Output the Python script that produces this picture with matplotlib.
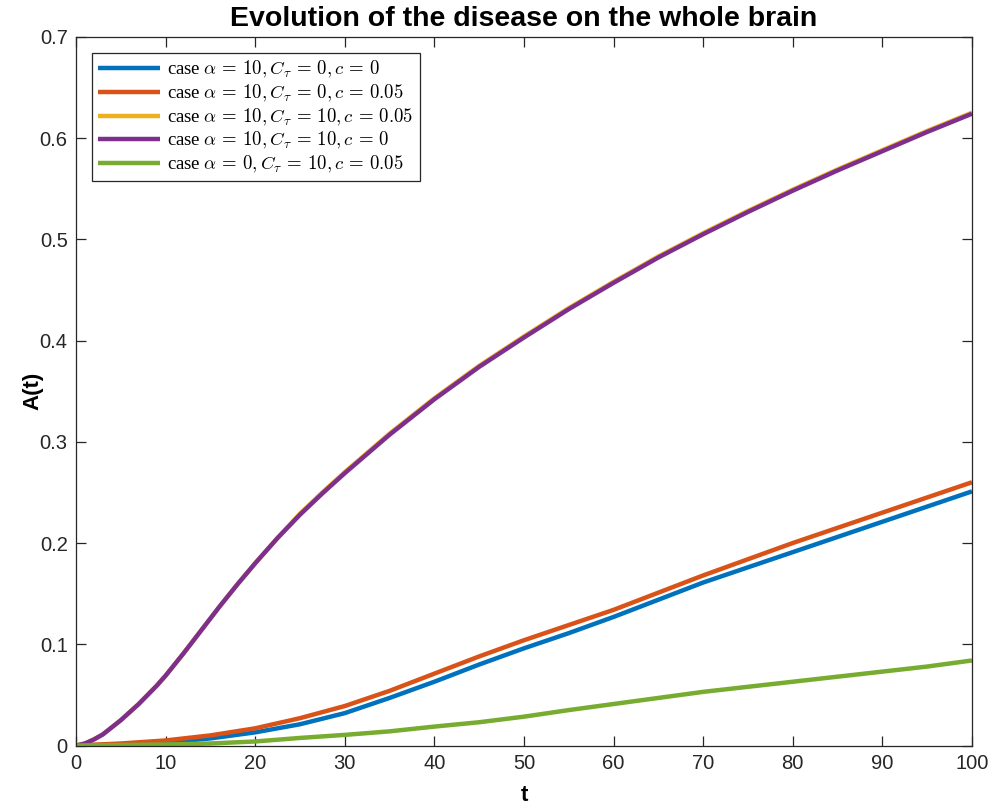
import matplotlib
matplotlib.use("Agg")
import matplotlib.pyplot as plt

plt.rcParams["mathtext.fontset"] = "cm"

# Time samples
t_fast = [0, 1, 2, 3, 4, 5, 6, 7, 8, 9, 10, 12, 14, 16, 18, 20, 22.5, 25, 27.5,
          30, 35, 40, 45, 50, 55, 60, 65, 70, 75, 80, 85, 90, 95, 100]
t_slow = [0, 5, 10, 15, 20, 25, 30, 35, 40, 45, 50, 55, 60, 65, 70, 75, 80,
          85, 90, 95, 100]

# A(t) for each case
a10_ct10_c0 = [0, 0.002, 0.006, 0.011, 0.018, 0.025, 0.033, 0.041, 0.050, 0.059,
               0.069, 0.091, 0.114, 0.137, 0.159, 0.180, 0.205, 0.228, 0.249,
               0.269, 0.307, 0.342, 0.374, 0.403, 0.431, 0.457, 0.482, 0.505,
               0.527, 0.548, 0.568, 0.587, 0.606, 0.624]
a10_ct10_c005 = [0, 0.002, 0.006, 0.011, 0.018, 0.025, 0.033, 0.041, 0.050, 0.059,
                 0.069, 0.091, 0.114, 0.137, 0.159, 0.180, 0.205, 0.229, 0.250,
                 0.270, 0.308, 0.343, 0.375, 0.404, 0.432, 0.458, 0.483, 0.506,
                 0.528, 0.549, 0.569, 0.588, 0.607, 0.625]
a10_ct0_c0 = [0, 0.001, 0.003, 0.007, 0.013, 0.021, 0.032, 0.047, 0.063, 0.080,
              0.096, 0.111, 0.127, 0.144, 0.161, 0.176, 0.191, 0.206, 0.221,
              0.236, 0.251]
a10_ct0_c005 = [0, 0.002, 0.005, 0.010, 0.017, 0.027, 0.039, 0.054, 0.071, 0.088,
                0.104, 0.119, 0.134, 0.151, 0.168, 0.184, 0.200, 0.215, 0.230,
                0.245, 0.260]
a0_ct10_c005 = [0, 0.0005, 0.001, 0.002, 0.004, 0.0075, 0.0105, 0.014, 0.0187,
                0.023, 0.0285, 0.035, 0.041, 0.047, 0.053, 0.058, 0.063, 0.068,
                0.073, 0.078, 0.084]

labels = [
    r"case $\alpha \,=\, 10, C_\tau \,=\, 0, c \,=\, 0$",
    r"case $\alpha \,=\, 10, C_\tau \,=\, 0, c \,=\, 0.05$",
    r"case $\alpha \,=\, 10, C_\tau \,=\, 10, c \,=\, 0.05$",
    r"case $\alpha \,=\, 10, C_\tau \,=\, 10, c \,=\, 0$",
    r"case $\alpha \,=\, 0, C_\tau \,=\, 10, c \,=\, 0.05$",
]
colors = ["#0072BD", "#D95319", "#EDB120", "#7E2F8E", "#77AC30"]

x_ticks = [0, 10, 20, 30, 40, 50, 60, 70, 80, 90, 100]
y_ticks = [0, 0.1, 0.2, 0.3, 0.4, 0.5, 0.6, 0.7]
y_tick_labels = ["0", "0.1", "0.2", "0.3", "0.4", "0.5", "0.6", "0.7"]

fig = plt.figure(figsize=(9.92, 8.10), dpi=100)
ax = fig.add_axes([0.0766, 0.0796, 0.9032, 0.8750])

series = [
    (t_slow, a10_ct0_c0),
    (t_slow, a10_ct0_c005),
    (t_fast, a10_ct10_c005),
    (t_fast, a10_ct10_c0),
    (t_slow, a0_ct10_c005),
]
for (tt, aa), lab, col in zip(series, labels, colors):
    ax.plot(tt, aa, color=col, lw=3.2, label=lab, solid_capstyle="butt",
            solid_joinstyle="round")

ax.set_xlim(0, 100)
ax.set_ylim(0, 0.7)
ax.set_xticks(x_ticks)
ax.set_yticks(y_ticks)
ax.set_yticklabels(y_tick_labels)

axis_color = "#262626"
for sp in ax.spines.values():
    sp.set_color(axis_color)
    sp.set_linewidth(0.9)
ax.tick_params(direction="in", length=7, width=0.9, top=True, right=True,
               colors=axis_color, labelsize=14.5, pad=6)
for lbl in ax.get_xticklabels() + ax.get_yticklabels():
    lbl.set_fontfamily("Liberation Sans")
    lbl.set_color("#262626")

ax.set_title("Evolution of the disease on the whole brain", fontsize=20.5,
             fontweight="bold", family="Liberation Sans", pad=8)
ax.set_xlabel("t", fontsize=16, fontweight="bold", family="Liberation Sans",
              labelpad=9)
ax.set_ylabel("A(t)", fontsize=16, fontweight="bold", family="Liberation Sans")
ax.yaxis.set_label_coords(-0.036, 0.5)

leg = ax.legend(loc="upper left", bbox_to_anchor=(0.0, 1.0), fancybox=False,
                framealpha=1, edgecolor=axis_color, handlelength=3.3,
                handletextpad=0.35, labelspacing=0.14, borderpad=0.35,
                borderaxespad=0.85,
                prop={"family": "Liberation Serif", "size": 13.5})
leg.get_frame().set_linewidth(0.9)

fig.savefig("out.png", dpi=100)
